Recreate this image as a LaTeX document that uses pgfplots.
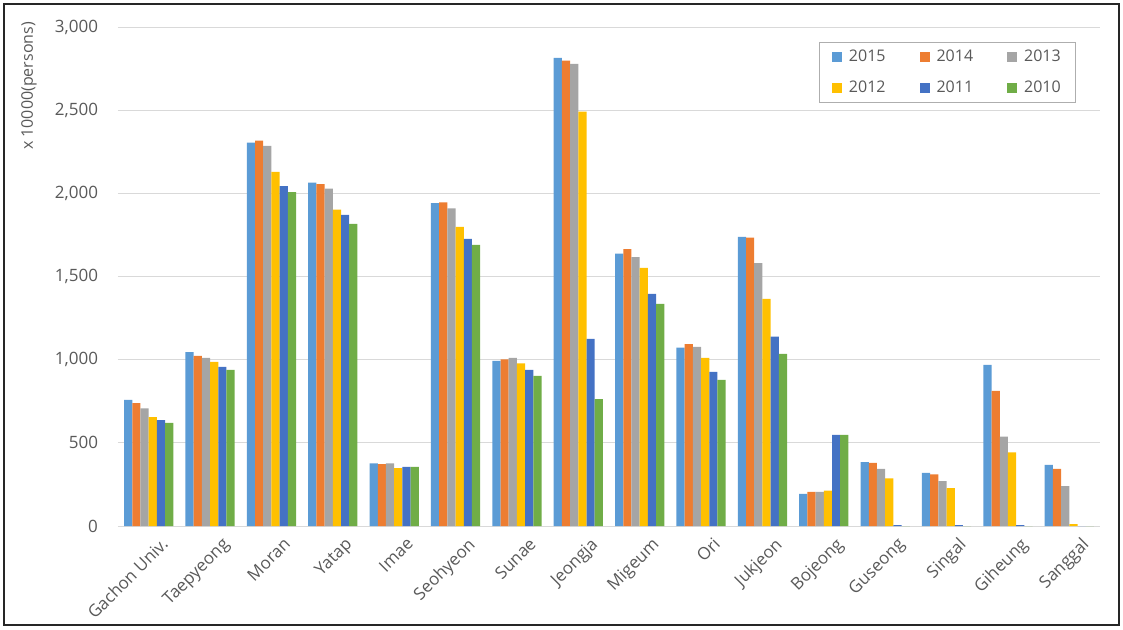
\documentclass[border=0pt]{standalone}
\usepackage{pgfplots}
\usepackage{pgfplotstable}
\pgfplotsset{compat=1.18}
\usepackage{fontspec}
\setmainfont{Open Sans}
\definecolor{c2015}{HTML}{5B9BD5}
\definecolor{c2014}{HTML}{ED7D31}
\definecolor{c2013}{HTML}{A5A5A5}
\definecolor{c2012}{HTML}{FFC000}
\definecolor{c2011}{HTML}{4472C4}
\definecolor{c2010}{HTML}{70AD47}
\definecolor{gridgray}{HTML}{D9D9D9}
\definecolor{labelgray}{HTML}{595959}
\pgfplotstableread{
x  a2015 a2014 a2013 a2012 a2011 a2010
0  758  739  707  654  637  620
1  1045 1023 1011 987  956  939
2  2305 2317 2286 2129 2044 2008
3  2064 2056 2028 1902 1871 1817
4  377  372  377  348  355  355
5  1941 1946 1909 1798 1726 1690
6  992  1002 1011 978  939  903
7  2814 2798 2778 2491 1125 763
8  1637 1665 1617 1552 1395 1335
9  1072 1093 1077 1011 927  879
10 1738 1733 1581 1366 1139 1035
11 193  205  205  212  548  548
12 384  379  343  287  5    0
13 319  311  270  227  5    0
14 968  813  538  442  5    0
15 367  343  239  12   0    0
}\data
\begin{document}
\begin{tikzpicture}
\useasboundingbox (-118pt,-103pt) rectangle (1005pt,526pt);
\begin{axis}[
  scale only axis, width=982pt, height=499pt,
  ybar=0pt, bar width=8.2pt,
  xmin=-0.5, xmax=15.5, ymin=0, ymax=3000,
  xtick={0,...,15},
  xticklabels={Gachon Univ.,Taepyeong,Moran,Yatap,Imae,Seohyeon,Sunae,Jeongja,Migeum,Ori,Jukjeon,Bojeong,Guseong,Singal,Giheung,Sanggal},
  ytick={0,500,...,3000},
  ymajorgrids, grid style={draw=gridgray, line width=0.9pt},
  axis line style={draw=none},
  major tick length=0pt,
  /pgf/number format/assume math mode=true,
  /pgf/number format/1000 sep={,},
  tick label style={font=\fontsize{17}{19}\selectfont, text=labelgray},
  yticklabel style={xshift=-16.5pt},
  xticklabel style={rotate=45, anchor=north east, xshift=4pt, yshift=-12pt},
  legend columns=3,
  legend style={at={(0.9756,0.97)}, anchor=north east, draw=gridgray!80!black, line width=0.6pt,
    font=\fontsize{16}{18}\selectfont, text=labelgray, inner xsep=13pt, inner ysep=6pt,
    /tikz/every odd column/.append style={column sep=5pt},
    /tikz/every even column/.append style={column sep=32pt}, /tikz/row sep=14pt},
  legend image code/.code={\fill[#1] (0pt,-5pt) rectangle (10pt,5pt);},
]
\addplot[fill=c2015, draw=none] table[x=x, y=a2015] {\data};
\addplot[fill=c2014, draw=none] table[x=x, y=a2014] {\data};
\addplot[fill=c2013, draw=none] table[x=x, y=a2013] {\data};
\addplot[fill=c2012, draw=none] table[x=x, y=a2012] {\data};
\addplot[fill=c2011, draw=none] table[x=x, y=a2011] {\data};
\addplot[fill=c2010, draw=none] table[x=x, y=a2010] {\data};
\legend{2015,2014,2013,2012,2011,2010}
\end{axis}
\node[rotate=90, font=\fontsize{16}{18}\selectfont, text=labelgray] at (-89pt,440pt) {x 10000(persons)};
\draw[line width=1.2pt, black!85] (-114pt,-99pt) rectangle (1001pt,522pt);
\end{tikzpicture}
\end{document}
